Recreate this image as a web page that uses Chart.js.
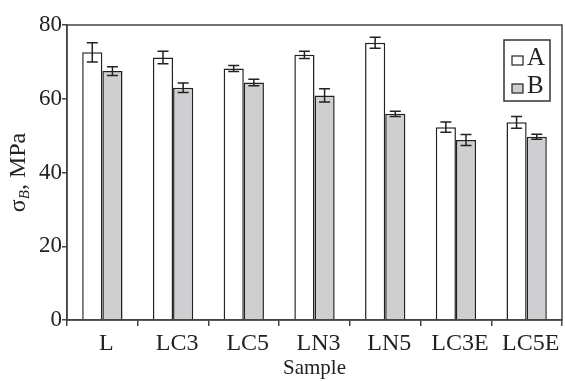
<!DOCTYPE html>
<html lang="en">
<head>
<meta charset="UTF-8">
<title>Sample strength</title>
<script src="https://cdn.jsdelivr.net/npm/chart.js"></script>
<style>
    body { margin: 0; background: #fff; }
    .chart-box { width: 565px; height: 381px; position: relative; }
</style>
</head>
<body>
<div class="chart-box">
    <canvas id="sigmaChart"></canvas>
</div>
<script>
    // values
    let samples = ["L", "LC3", "LC5", "LN3", "LN5", "LC3E", "LC5E"];
    let valuesA = [72.6, 71.2, 68.2, 71.9, 75.2, 52.3, 53.6];
    let errorsA = [2.6, 1.7, 0.8, 1.0, 1.5, 1.4, 1.6];
    let valuesB = [67.5, 63.0, 64.4, 60.9, 55.9, 48.8, 49.7];
    let errorsB = [1.2, 1.3, 0.9, 1.8, 0.7, 1.5, 0.7];
    let yTicks = [0, 20, 40, 60, 80];

    const serif = "'Liberation Serif', 'DejaVu Serif', serif";
    const ink = "#222";

    // error bars, plot frame, y title and legend box
    const extras = {
        id: "extras",
        afterDatasetsDraw(chart) {
            const c = chart.ctx;
            const y = chart.scales.y;
            c.save();
            c.strokeStyle = ink;
            c.lineWidth = 1.5;
            chart.data.datasets.forEach((ds, i) => {
                chart.getDatasetMeta(i).data.forEach((bar, j) => {
                    let top = y.getPixelForValue(ds.data[j] + ds.errors[j]);
                    let bot = y.getPixelForValue(ds.data[j] - ds.errors[j]);
                    c.beginPath();
                    c.moveTo(bar.x, top); c.lineTo(bar.x, bot);
                    c.moveTo(bar.x - 5.5, top); c.lineTo(bar.x + 5.5, top);
                    c.moveTo(bar.x - 5.5, bot); c.lineTo(bar.x + 5.5, bot);
                    c.stroke();
                });
            });
            c.restore();
        },
        afterDraw(chart) {
            const c = chart.ctx;
            const a = chart.chartArea;
            c.save();
            // frame
            c.strokeStyle = "#444";
            c.lineWidth = 1.5;
            c.strokeRect(a.left, a.top, a.right - a.left, a.bottom - a.top);

            // y title: sigma with italic subscript B
            c.translate(18, (a.top + a.bottom) / 2);
            c.rotate(-Math.PI / 2);
            c.fillStyle = ink;
            c.textBaseline = "alphabetic";
            let big = "24px " + serif;
            let small = "italic 15px " + serif;
            c.font = big;
            let w1 = c.measureText("σ").width;
            let w3 = c.measureText(", MPa").width;
            c.font = small;
            let w2 = c.measureText("B").width;
            let x0 = -(w1 + w2 + w3) / 2;
            c.font = big;
            c.fillText("σ", x0, 7);
            c.font = small;
            c.fillText("B", x0 + w1, 11);
            c.font = big;
            c.fillText(", MPa", x0 + w1 + w2, 7);
            c.restore();

            // legend
            c.save();
            c.strokeStyle = "#333";
            c.lineWidth = 1.5;
            c.strokeRect(504, 40, 46, 61);
            c.font = "25px " + serif;
            c.textBaseline = "alphabetic";
            chart.data.datasets.forEach((ds, i) => {
                let yy = 56 + i * 28;
                c.fillStyle = ds.backgroundColor;
                c.fillRect(512, yy, 11, 9);
                c.lineWidth = 1.2;
                c.strokeStyle = ink;
                c.strokeRect(512, yy, 11, 9);
                c.fillStyle = ink;
                c.fillText(ds.label, 527, yy + 9);
            });
            c.restore();
        }
    };

    let ctx = document.getElementById("sigmaChart").getContext("2d");
    let sigmaChart = new Chart(ctx, {
        type: "bar",
        data: {
            labels: samples,
            datasets: [
                { label: "A", data: valuesA, errors: errorsA, backgroundColor: "#ffffff", borderColor: ink, borderWidth: 1.5 },
                { label: "B", data: valuesB, errors: errorsB, backgroundColor: "#cfcfd1", borderColor: ink, borderWidth: 1.5 }
            ]
        },
        options: {
            responsive: true,
            maintainAspectRatio: false,
            animation: false,
            layout: { padding: { top: 25, right: 3, left: 0, bottom: 0 } },
            categoryPercentage: 0.57,
            barPercentage: 1.0,
            plugins: {
                legend: { display: false },
                tooltip: { enabled: false }
            },
            scales: {
                x: {
                    offset: true,
                    grid: { offset: true, drawOnChartArea: false, tickLength: 6, color: "#444", lineWidth: 1.5 },
                    border: { color: "#444", width: 1.5 },
                    ticks: { color: ink, font: { family: serif, size: 24 }, padding: 3, labelOffset: 4, maxRotation: 0 },
                    title: { display: true, text: "Sample", color: ink, font: { family: serif, size: 21 }, padding: { top: -6, bottom: 0 } },
                    afterFit(scale) { scale.height = 61; }
                },
                y: {
                    min: 0,
                    max: 80,
                    afterBuildTicks(scale) { scale.ticks = yTicks.map(v => ({ value: v })); },
                    grid: { drawOnChartArea: false, tickLength: 5, color: "#444", lineWidth: 1.5 },
                    border: { color: "#444", width: 1.5 },
                    ticks: { color: ink, font: { family: serif, size: 23 }, padding: 0 },
                    afterFit(scale) { scale.width = 67; }
                }
            }
        },
        plugins: [extras]
    });
</script>
</body>
</html>
